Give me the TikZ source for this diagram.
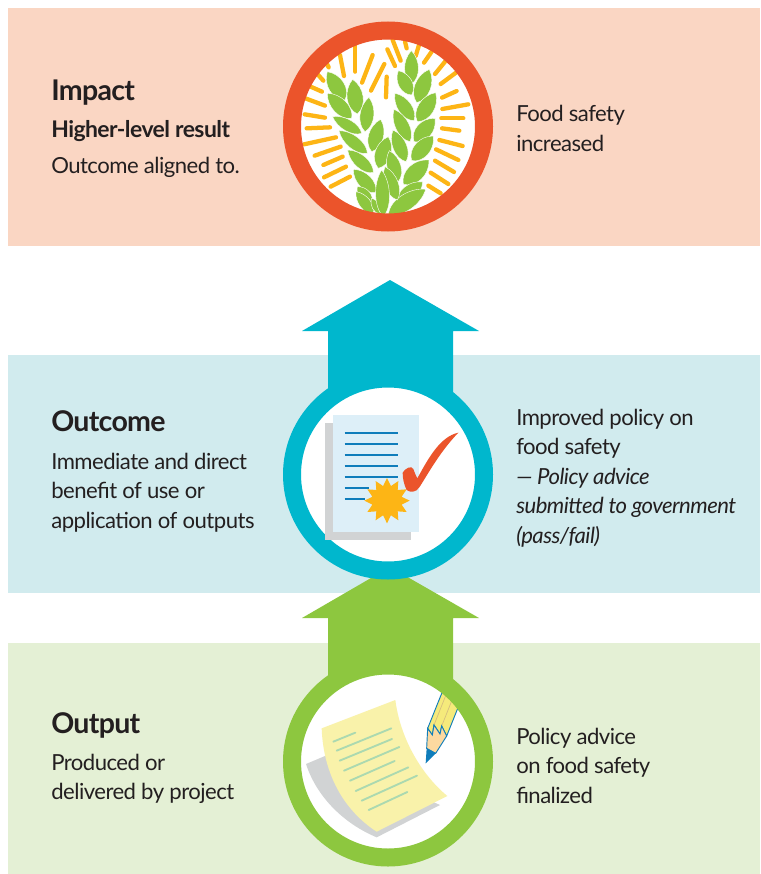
\documentclass[tikz,border=0pt]{standalone}
\usepackage{fontspec}
\setmainfont[LetterSpace=-2.4]{Lato}
\usetikzlibrary{calc,shapes.geometric}
\definecolor{impactband}{HTML}{FAD6C3}
\definecolor{outcomeband}{HTML}{D1EBEE}
\definecolor{outputband}{HTML}{E4F0D5}
\definecolor{impactring}{HTML}{EB542B}
\definecolor{outcomering}{HTML}{00B7CD}
\definecolor{outputring}{HTML}{8DC73F}
\definecolor{rayorange}{HTML}{FDB515}
\definecolor{docblue}{HTML}{DDEFF8}
\definecolor{lineblue}{HTML}{0F7DBB}
\definecolor{shadowgray}{HTML}{D1D3D4}
\definecolor{notepaper}{HTML}{F9F2AA}
\definecolor{noteline}{HTML}{ABD9B0}
\definecolor{pencilbody}{HTML}{F5EA7B}
\definecolor{pencilwood}{HTML}{FCD9A0}
\definecolor{inktext}{HTML}{231F20}
\tikzset{
  headtext/.style={font=\fontsize{21.4}{22}\selectfont\bfseries, anchor=base west, inner sep=0pt, text=inktext},
  subtext/.style={font=\fontsize{17.2}{22}\selectfont\bfseries, anchor=base west, inner sep=0pt, text=inktext},
  bodytext/.style={font=\fontsize{16.6}{22.1}\selectfont, anchor=west, align=left, inner sep=0pt, text=inktext},
  ring/.style={line width=13.5pt},
  zoomed/.style={x=.25pt, y=-.25pt},
  ray/.style={rayorange, line width=3.2pt, line cap=round},
  docline/.style={lineblue, line width=1.4pt},
  noterule/.style={noteline, line width=1.4pt, line cap=round}
}
\newcommand{\leaf}[3]{%
  \fill[outputring, draw=white, line width=.3pt] (#1)
    .. controls ($(#1)!.2!(#2)!#3*1.15pt!90:(#2)$) and ($(#1)!.72!(#2)!#3*1.15pt!90:(#2)$) .. (#2)
    .. controls ($(#1)!.72!(#2)!#3*1.15pt!-90:(#2)$) and ($(#1)!.2!(#2)!#3*1.15pt!-90:(#2)$) .. cycle;}
\begin{document}
\begin{tikzpicture}[x=.75pt, y=-.75pt]
  \useasboundingbox (0,0) rectangle (760,874);
  \fill[impactband] (8,8) rectangle (760,246);
  \fill[outcomeband] (8,355) rectangle (760,593);
  \fill[outputband] (8,643) rectangle (760,874);
  % arrows
  \fill[outcomering] (390,280) -- (479,331) -- (453,331) -- (453,420) -- (328,420) -- (328,331) -- (302,331) -- cycle;
  \fill[outputring] (390,567) -- (479,618) -- (453,618) -- (453,700) -- (328,700) -- (328,618) -- (302,618) -- cycle;
  % impact
  \fill[white] (388,126.5) circle (90);
  \begin{scope}
    \clip (388,126.5) circle (88);
    \begin{scope}[shift={(270,10)}, zoomed]
      \foreach \xa/\ya/\xb/\yb in {
        256/105/256/185, 210/135/222/198, 308/135/276/218, 343/162/303/242,
        350/200/348/262, 352/118/375/168, 368/90/392/152, 405/95/410/115,
        447/105/437/138, 485/125/462/158, 525/155/495/192, 558/188/512/222,
        560/243/516/263, 595/283/517/297, 580/325/514/325, 568/362/516/355,
        578/408/508/390, 565/450/498/418, 552/486/495/452, 535/522/482/488,
        512/550/475/527, 240/500/182/530, 228/470/162/502, 218/440/160/465,
        212/410/134/437, 198/382/102/403, 180/352/110/355, 165/323/104/313,
        165/287/106/265, 156/245/122/230, 160/212/142/192, 176/172/170/160}
        \draw[ray] (\xa,\ya) -- (\xb,\yb);
      \foreach \xa/\ya/\xb/\yb/\w in {
        225/270/172/185/7, 262/312/248/208/7, 245/325/172/250/6.5, 285/365/297/262/6,
        275/370/188/320/5, 305/425/332/328/6.5, 292/430/207/362/5.5, 325/475/355/380/7,
        310/488/233/420/5.5, 318/548/250/478/6, 305/580/262/530/5, 310/612/258/545/5,
        425/222/424/122/6, 425/255/385/182/6, 440/278/478/178/7, 432/332/375/250/6,
        442/335/497/248/7, 420/395/372/298/6, 432/395/495/325/7, 408/455/369/360/6,
        425/452/490/378/7, 400/523/477/450/7.5, 382/578/458/516/6.5, 355/612/467/538/7,
        385/515/358/422/6, 330/612/305/565/3.5, 382/570/345/470/6, 340/620/335/480/6} {
        \leaf{\xa,\ya}{\xb,\yb}{\w}
      }
    \end{scope}
  \end{scope}
  \draw[ring, impactring] (388,126.5) circle (96);
  % outcome
  \filldraw[ring, draw=outcomering, fill=white] (388,474.5) circle (96);
  \begin{scope}[shift={(270,370)}, zoomed]
    \fill[shadowgray] (165,159) rectangle (423,510);
    \fill[docblue] (189,135) rectangle (447,486);
    \foreach \yy/\xe in {189/383, 222/383, 255/383, 289/383, 322/383, 355/297, 388/285}
      \draw[docline] (224,\yy) -- (\xe,\yy);
    \node[star, star points=12, star point ratio=1.5, fill=rayorange, minimum size=34pt, inner sep=0pt] (burst) at (351,392) {};
    \fill[impactring] (398,308) .. controls (405,295) and (425,285) .. (430,297) .. controls (435,310) and (438,318) .. (442,325)
      .. controls (475,265) and (510,200) .. (565,188) .. controls (510,245) and (475,310) .. (448,352)
      .. controls (438,368) and (420,368) .. (410,360) .. controls (402,345) and (398,325) .. cycle;
  \end{scope}
  % output
  \fill[white] (388,761.5) circle (90);
  \begin{scope}
    \clip (388,761.5) circle (88);
    \begin{scope}[shift={(270,660)}, zoomed]
      \fill[shadowgray] (108,312) -- (172,285) -- (510,435) -- (320,532) .. controls (220,490) and (140,410) .. cycle;
      \fill[notepaper] (155,205) -- (376,120) .. controls (390,230) and (450,340) .. (532,408) -- (320,515) .. controls (220,450) and (160,340) .. cycle;
      \foreach \xa/\ya/\xb/\yb in {
        190/245/256/218, 200/272/364/205, 209/302/366/237, 222/332/388/261,
        240/362/374/303, 257/393/415/322, 275/422/441/347, 296/450/412/396}
        \draw[noterule] (\xa,\ya) -- (\xb,\yb);
      \filldraw[pencilbody, draw=lineblue, line width=.7pt] (473,205) -- (532,58) -- (594,68) -- (530,228) -- (515,198) -- (510,222) -- (492,195) -- (487,225) -- cycle;
      \draw[pencilwood!70!pencilbody!85!black, line width=.5pt] (492,195) -- (545,62) (515,198) -- (568,65);
      \filldraw[pencilwood, draw=lineblue, line width=.7pt] (473,205) -- (487,225) -- (492,195) -- (510,222) -- (515,198) -- (530,228) -- (497,280) -- (470,265) -- cycle;
      \fill[lineblue] (467,310) -- (470,265) -- (497,280) -- cycle;
    \end{scope}
  \end{scope}
  \draw[ring, outputring] (388,761.5) circle (96);
  % labels
  \node[headtext] (impacthead) at (51,100) {Impact};
  \node[subtext] (impactsub) at (51,137) {Higher-level result};
  \node[bodytext] (impactbody) at (51,167) {Outcome aligned to.};
  \node[bodytext] (impactright) at (516,128.5) {Food safety\\increased};
  \node[headtext] (outcomehead) at (51,431) {Outcome};
  \node[bodytext] (outcomebody) at (51,492.5) {Immediate and direct\\benefit of use or\\application of outputs};
  \node[bodytext] (outcomeright) at (516,478) {Improved policy on\\food safety\\\itshape --- Policy advice\\\itshape submitted to government\\\itshape (pass/fail)};
  \node[headtext] (outputhead) at (51,733) {Output};
  \node[bodytext] (outputbody) at (51,779) {Produced or\\delivered by project};
  \node[bodytext] (outputright) at (516,765.5) {Policy advice\\on food safety\\finalized};
\end{tikzpicture}
\end{document}
